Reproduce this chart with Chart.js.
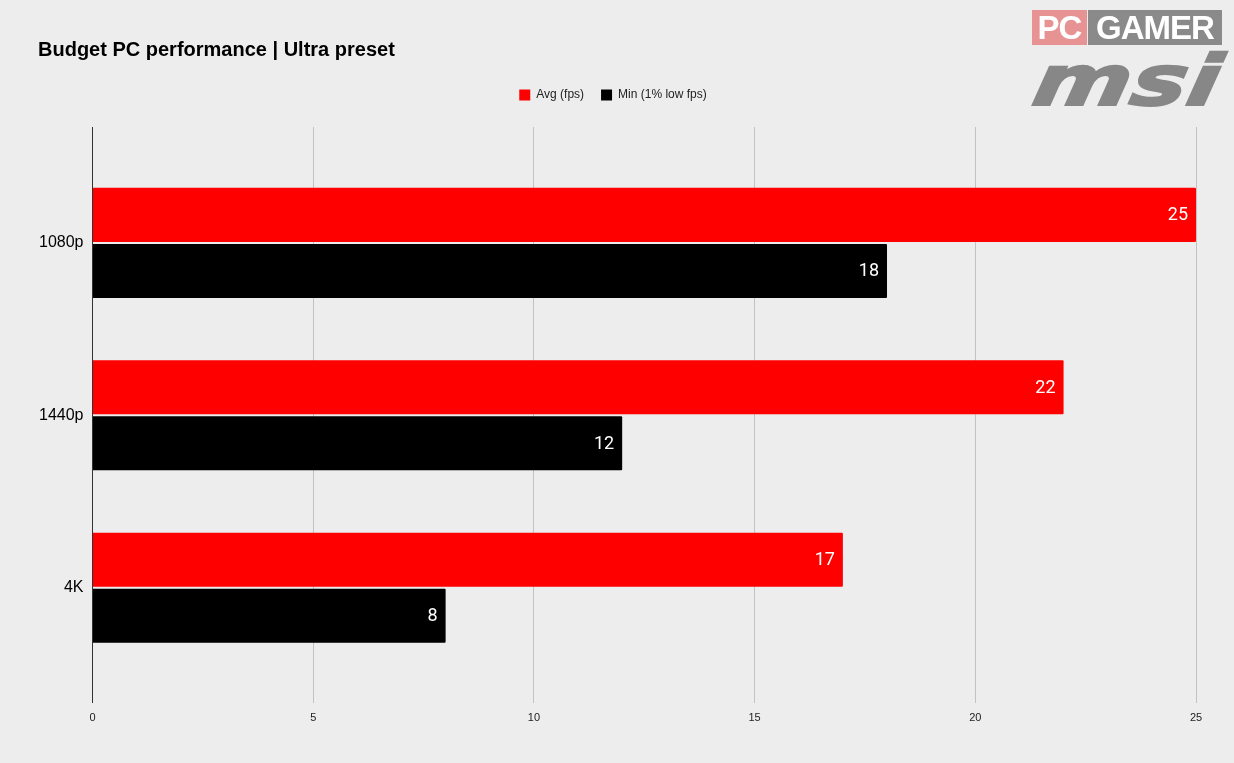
<!DOCTYPE html>
<html>
<head>
<meta charset="utf-8">
<script src="https://cdn.jsdelivr.net/npm/chart.js@4.4.0/dist/chart.umd.min.js"></script>
<style>
  html, body { margin: 0; padding: 0; background: #ededed; }
  #wrap { position: relative; width: 1234px; height: 763px; overflow: hidden; }
  #title { position: absolute; left: 38px; top: 38px; font: bold 20px "Liberation Sans", Arial, sans-serif; color: #000; }
  #logo { position: absolute; left: 1032px; top: 10px; width: 190px; }
  .pc { position: absolute; top: 0; height: 35px; color: #fff; font: bold 33px "Liberation Sans", Arial, sans-serif; line-height: 36px; text-align: center; letter-spacing: -1px; }
  #msi { position: absolute; left: -4px; top: 36px; font: italic bold 70px "DejaVu Sans", sans-serif; color: #878787; -webkit-text-stroke: 2px #878787; letter-spacing: 0px; line-height: 70px; transform: scaleX(1.34) skewX(-8deg); transform-origin: left bottom; white-space: nowrap; }
  canvas { position: absolute; left: 0; top: 0; }
</style>
</head>
<body>
<div id="wrap">
  <canvas id="chart" width="1234" height="763"></canvas>
  <div id="title">Budget PC performance | Ultra preset</div>
  <div id="logo">
    <div class="pc" style="left:0;width:55px;background:#e89393;">PC</div>
    <div class="pc" style="left:56px;width:134px;background:#8a8a8a;">GAMER</div>
    <div id="msi">msi</div>
  </div>
</div>
<script>
const categories = ['1080p', '1440p', '4K'];
const avgFps = [25, 22, 17];
const minFps = [18, 12, 8];
const xTicks = [0, 5, 10, 15, 20, 25];

// white value labels at the end of each bar
const barValues = {
    id: 'barValues',
    afterDatasetsDraw(chart) {
        const ctx = chart.ctx;
        ctx.save();
        ctx.fillStyle = '#ffffff';
        ctx.font = '18px Roboto, sans-serif';
        ctx.textAlign = 'right';
        ctx.textBaseline = 'middle';
        chart.data.datasets.forEach((ds, i) => {
            chart.getDatasetMeta(i).data.forEach((bar, j) => {
                ctx.fillText(String(ds.data[j].x), bar.x - 8, bar.y + 1);
            });
        });
        ctx.restore();
    }
};

// a bit more room under the legend
const legendGap = {
    id: 'legendGap',
    beforeInit(chart) {
        const fit = chart.legend.fit;
        chart.legend.fit = function () {
            fit.bind(chart.legend)();
            this.height += 16;
        };
    }
};

var chart = new Chart(document.getElementById('chart'), {
    type: 'bar',
    data: {
        datasets: [{
            label: 'Avg (fps)',
            backgroundColor: '#ff0000',
            data: avgFps.map((v, i) => ({ x: v, y: i }))
        },
        {
            label: 'Min (1% low fps)',
            backgroundColor: '#000000',
            data: minFps.map((v, i) => ({ x: v, y: i }))
        }]
    },
    options: {
        indexAxis: 'y',
        animation: false,
        responsive: false,
        categoryPercentage: 0.65,
        barPercentage: 0.964,
        borderRadius: 1,
        layout: { padding: { left: 30, right: 38, top: 72, bottom: 29 } },
        plugins: {
            title: { display: false },
            tooltip: { enabled: false },
            legend: {
                position: 'top',
                labels: {
                    boxWidth: 11,
                    boxHeight: 11,
                    padding: 17,
                    color: '#222',
                    font: { size: 12, family: '"Liberation Sans", Arial, sans-serif' }
                }
            }
        },
        scales: {
            x: {
                type: 'linear',
                min: 0,
                max: 25,
                afterBuildTicks: s => { s.ticks = xTicks.map(v => ({ value: v })); },
                grid: { color: '#c2c2c2', drawTicks: false },
                border: { display: false },
                ticks: {
                    padding: 9,
                    color: '#222',
                    font: { size: 11, family: '"Liberation Sans", Arial, sans-serif' }
                }
            },
            y: {
                type: 'linear',
                reverse: true,
                offset: false,
                min: -0.672,
                max: 2.667,
                afterBuildTicks: s => { s.ticks = categories.map((c, i) => ({ value: i })); },
                grid: { display: false, tickLength: 0 },
                border: { display: true, color: '#333', width: 1 },
                ticks: {
                    padding: 9,
                    color: '#000',
                    callback: v => categories[v],
                    font: { size: 16, family: '"Liberation Sans", Arial, sans-serif' }
                }
            }
        }
    },
    plugins: [barValues, legendGap]
});
</script>
</body>
</html>
